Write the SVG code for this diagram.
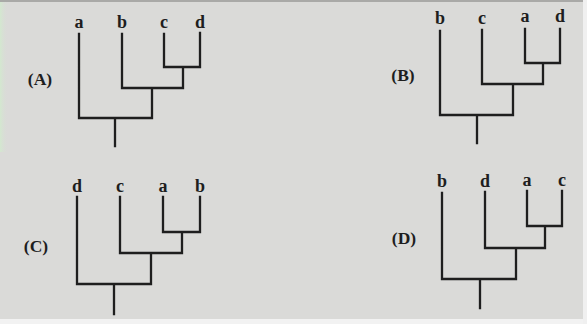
<svg xmlns="http://www.w3.org/2000/svg" width="587" height="324" viewBox="0 0 587 324">
<defs>
<linearGradient id="tint" x1="0" y1="0" x2="1" y2="0">
<stop offset="0" stop-color="#d3e8cf"/>
<stop offset="1" stop-color="#dadad8" stop-opacity="0"/>
</linearGradient>
</defs>
<style>
text{font-family:"Liberation Serif","DejaVu Serif",serif;font-weight:bold;fill:#1e1e1e}
.leaf{font-size:18px;text-anchor:middle}
.tag{font-size:17.5px;text-anchor:middle}
.ln{fill:none;stroke:#1e1e1e;stroke-width:2.3;stroke-linecap:square;stroke-linejoin:miter}
</style>
<rect x="0" y="0" width="587" height="324" fill="#dadad8"/>
<rect x="0" y="0" width="587" height="2" fill="#a9a9a7"/>
<rect x="0" y="2" width="8" height="150" fill="url(#tint)"/>
<rect x="0" y="319" width="587" height="5" fill="#f2f2f2"/>
<rect x="583" y="0" width="4" height="324" fill="#f0f0f0"/>

<g id="tree-A">
<text class="tag" x="40" y="85">(A)</text>
<text class="leaf" x="79" y="28">a</text>
<text class="leaf" x="122" y="28">b</text>
<text class="leaf" x="164" y="28">c</text>
<text class="leaf" x="200" y="28">d</text>
</g>
<g id="tree-B">
<text class="tag" x="403" y="81">(B)</text>
<text class="leaf" x="440" y="24">b</text>
<text class="leaf" x="482" y="24">c</text>
<text class="leaf" x="525" y="22">a</text>
<text class="leaf" x="560" y="22">d</text>
</g>
<g id="tree-C">
<text class="tag" x="36" y="252">(C)</text>
<text class="leaf" x="77" y="192">d</text>
<text class="leaf" x="120" y="192">c</text>
<text class="leaf" x="163" y="192">a</text>
<text class="leaf" x="200" y="192">b</text>
</g>
<g id="tree-D">
<text class="tag" x="404" y="244">(D)</text>
<text class="leaf" x="442" y="187">b</text>
<text class="leaf" x="485" y="187">d</text>
<text class="leaf" x="527" y="186">a</text>
<text class="leaf" x="562" y="186">c</text>
</g>

<g id="connectors">
<path class="ln" d="M164,34V67H200V33 M183,67V88 M122,34V88H183 M152,88V118 M79,34V118H152 M115,118V146"/>
<path class="ln" d="M525,29V63H560V29 M543,63V84 M482,30V84H543 M513,84V115 M440,31V115H513 M477,115V143"/>
<path class="ln" d="M163,197V232H200V197 M182,232V253 M120,197V253H182 M151,253V284 M77,197V284H151 M114,284V314"/>
<path class="ln" d="M527,191V226H562V191 M545,226V248 M485,192V248H545 M516,248V279 M442,193V279H516 M480,279V308"/>
</g>
</svg>
